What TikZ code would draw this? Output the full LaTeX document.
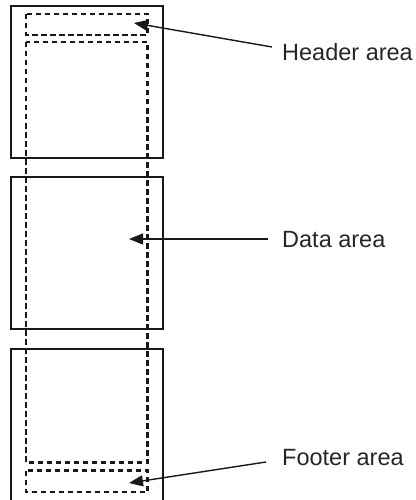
\documentclass[tikz,border=0pt]{standalone}
\usepackage{fontspec}
\setmainfont{Liberation Sans}
\usetikzlibrary{arrows.meta}
\begin{document}
\begin{tikzpicture}[x=1pt,y=-1pt,
  pagebox/.style={draw=black!90,line width=2.8pt},
  areabox/.style={draw=black!90,line width=2.3pt,dash pattern=on 5.5pt off 3.5pt},
  callout/.style={draw=black!90,line width=1.4pt,-{Triangle[length=14pt,width=11pt]}},
  lbl/.style={anchor=base west,inner sep=0pt,font=\fontsize{23.5}{28}\selectfont,text=black!85}]
\useasboundingbox (0,0) rectangle (415,500);
\clip (0,0) rectangle (415,500);
% pages
\draw[pagebox] (11,6) rectangle (163,158);
\draw[pagebox] (11,177) rectangle (163,329);
\draw[pagebox] (11,349) rectangle (163,506);
% areas
\draw[areabox] (26,14) rectangle (147.5,35);
\draw[areabox] (26,42) rectangle (147.5,462.5);
\draw[areabox] (26,470.5) rectangle (147.5,492);
% labels
\node[lbl] (h) at (282,61) {Header area};
\node[lbl] (d) at (282,247) {Data area};
\node[lbl] (f) at (282,465) {Footer area};
\coordinate (hs) at (272,47);
\coordinate (ds) at (268,239);
\coordinate (fs) at (266,462);
\coordinate (ht) at (134,23);
\coordinate (dt) at (129,239);
\coordinate (ft) at (129,483);
\draw[callout] (hs) -- (ht);
\draw[callout] (ds) -- (dt);
\draw[callout] (fs) -- (ft);
\end{tikzpicture}
\end{document}
